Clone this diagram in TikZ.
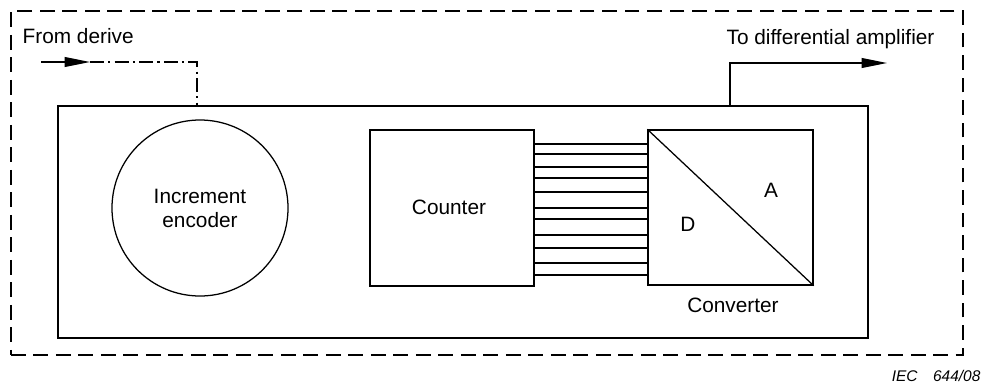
\documentclass[tikz,border=0pt]{standalone}
\usepackage{fontspec}
\setmainfont{Liberation Sans}
\usetikzlibrary{arrows.meta}

\begin{document}
\begin{tikzpicture}[x=0.25mm, y=-0.25mm, line width=0.9pt, >={Triangle[length=18pt,width=7pt]},
  every node/.style={font=\fontsize{14.8}{17}\selectfont, inner sep=0pt},
  block/.style={draw, rectangle},
  border/.style={dash pattern=on 10.5pt off 5.5pt},
  mech/.style={dash pattern=on 10pt off 3pt on 1.5pt off 3pt}]
  \useasboundingbox (0,0) rectangle (982,387);

  \node[block, border, minimum width=238mm, minimum height=86mm] (boundary) at (487,183) {};
  \node[block, minimum width=202.5mm, minimum height=58mm] (unit) at (463,222) {};
  \node[draw, circle, minimum size=44mm, align=center] (encoder) at (200,208) {Increment\\encoder};
  \node[block, minimum width=41mm, minimum height=39mm] (counter) at (452,208) {};
  \node[block, minimum width=41.25mm, minimum height=38.75mm] (converter) at (730.5,207.5) {};

  \node at (449,207) {Counter};
  \draw (converter.north west) -- (converter.south east);
  \node at (771,190) {A};
  \node at (688,224) {D};
  \node at (733,305) {Converter};

  % bus between counter and converter
  \foreach \y in {144,154,167,178,192,208,219,235,248,263,275}
    \draw (counter.east |- 0,\y) -- (converter.west |- 0,\y);

  % mechanical input
  \coordinate (in) at (41,62);
  \coordinate (shaft) at (197,106);
  \draw[->] (in) -- ++(49,0) coordinate (inend);
  \draw[mech] (inend) -| (shaft);
  \node[anchor=base west] at (22,43) {From derive};

  % analogue output
  \coordinate (tap) at (730,106);
  \coordinate (out) at (887,63);
  \draw[->] (tap) |- (out);
  \node[anchor=base west] at (726,44) {To differential amplifier};

  \node[anchor=base east, font=\fontsize{11}{13}\selectfont\itshape] at (981,381) {IEC\quad 644/08};
\end{tikzpicture}
\end{document}
